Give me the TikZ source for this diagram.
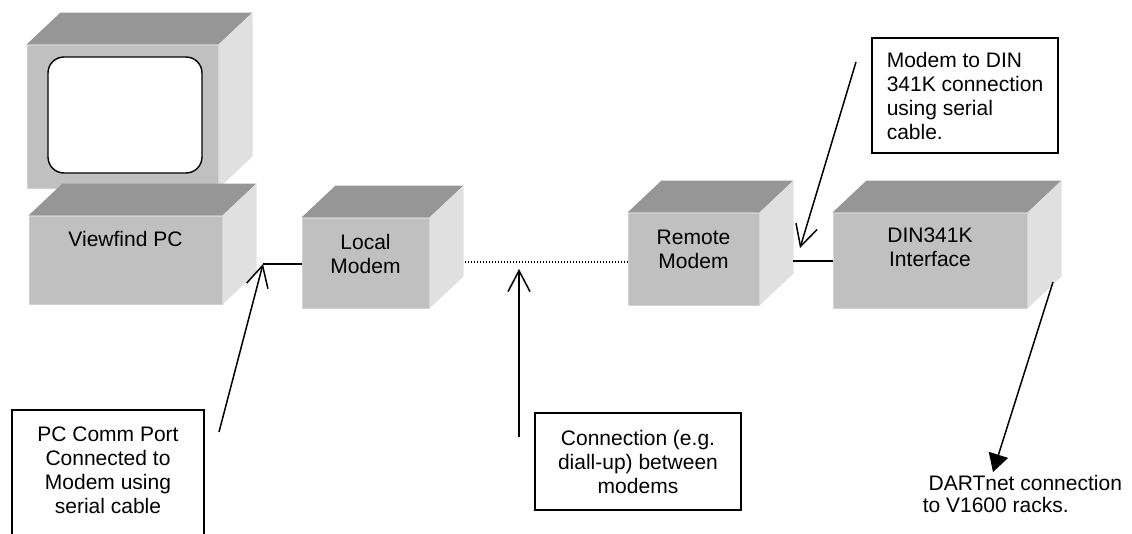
\documentclass[tikz,border=0pt]{standalone}
\usepackage{fontspec}
\setmainfont{Liberation Sans}
\usepackage{xcolor}
\usepackage{tikz}
\usetikzlibrary{arrows.meta,positioning}

\definecolor{frontgray}{HTML}{C0C0C0}
\definecolor{topgray}{HTML}{969696}
\definecolor{sidegray}{HTML}{E0E0E0}
\definecolor{rimgray}{HTML}{D2D2D2}

% top and right faces of a box drawn round a front node
\newcommand{\boxfaces}[1]{%
    \fill[topgray] (#1.north west) -- ++(34,-32) -- ([shift={(34,-32)}]#1.north east) -- (#1.north east) -- cycle;
    \fill[sidegray] (#1.north east) -- ++(34,-32) -- ([shift={(34,-32)}]#1.south east) -- (#1.south east) -- cycle;
}

\begin{document}
\begin{tikzpicture}[x=1pt,y=-1pt,
font=\fontsize{21}{24}\selectfont,
line width=1.5pt]
\tikzstyle{front}=[rectangle,fill=frontgray,draw=rimgray,line width=1pt,inner sep=0pt]
\tikzstyle{boxlabel}=[inner sep=0pt,align=center]
\tikzstyle{notebox}=[rectangle,draw,line width=1.5pt,align=center]
\tikzstyle{openarrow}=[-{Straight Barb[length=21pt,width=22pt]}]
\tikzstyle{filledarrow}=[-{Triangle[length=18pt,width=20pt]}]
    \clip (0,0) rectangle (1132,533);

    % monitor and PC
    \node[front,minimum width=191,minimum height=143] (monitor) at (122.5,116.5) {};
    \boxfaces{monitor}
    \node[rectangle,draw,fill=white,line width=1.4pt,rounded corners=16pt,
        minimum width=154,minimum height=116] (screen) at (125,115) {};
    \node[front,minimum width=193,minimum height=88] (pc) at (125.5,260) {};
    \boxfaces{pc}
    \node[boxlabel,below=15pt of pc.north] (pclabel) {Viewfind PC};

    % modems and interface
    \node[front,minimum width=127,minimum height=90] (local) at (365.5,263) {};
    \boxfaces{local}
    \node[boxlabel,below=16pt of local.north] (locallabel) {Local\\Modem};
    \node[front,minimum width=131,minimum height=92] (remote) at (693.5,259) {};
    \boxfaces{remote}
    \node[boxlabel,below=17pt of remote.north] (remotelabel) {Remote\\Modem};
    \node[front,minimum width=194,minimum height=95] (din) at (930,260.5) {};
    \boxfaces{din}
    \node[boxlabel,below=15pt of din.north] (dinlabel) {DIN341K\\Interface};

    % notes
    \node[notebox,anchor=north,minimum width=192,inner ysep=17pt,text depth=30pt] (commbox) at (108,409)
        {PC Comm Port\\Connected to\\Modem using\\serial cable};
    \node[notebox,minimum width=206,minimum height=97] (connbox) at (638,461.5)
        {Connection (e.g.\\diall-up) between\\modems};
    \node[notebox,align=left,inner xsep=15pt,minimum height=115] (dinnote) at (965,95.5)
        {Modem to DIN\\341K connection\\using serial\\cable.};
    \node[inner sep=0pt,align=left,anchor=north west,font=\fontsize{21}{22}\selectfont] (dartnote) at (922,475)
        {~DARTnet connection\\to V1600 racks.};

    % links
    \coordinate (pcjack) at (263,264);
    \coordinate (commtail) at (219,432);
    \draw (pcjack) -- (pcjack -| local.west);
    \draw[openarrow] (commtail) -- (pcjack);
    \coordinate (localjack) at (465,262);
    \draw[line width=1.3pt,dash pattern=on 1.3pt off 1.7pt] (localjack) -- (localjack -| remote.west);
    \coordinate (dialtail) at (519,437);
    \coordinate (dialtip) at (519,269);
    \draw[openarrow] (dialtail) -- (dialtip);
    \coordinate (remotejack) at (793,261);
    \draw (remotejack) -- (remotejack -| din.west);
    \coordinate (dintail) at (856,62);
    \coordinate (dintip) at (800,248);
    \draw[openarrow] (dintail) -- (dintip);
    \coordinate (dartjack) at (1053,282);
    \coordinate (darttip) at (993,472);
    \draw[filledarrow] (dartjack) -- (darttip);

\end{tikzpicture}
\end{document}
